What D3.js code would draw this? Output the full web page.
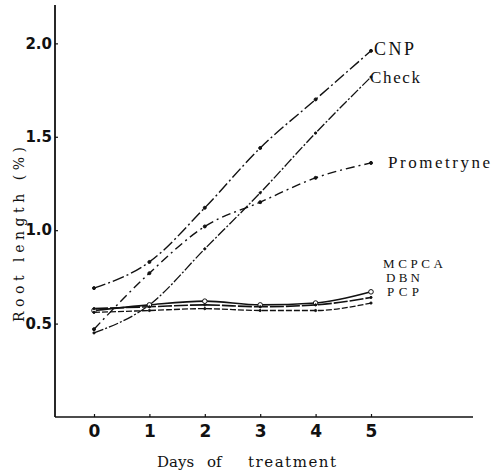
<!DOCTYPE html>
<html>
<head>
<meta charset="utf-8">
<script src="https://cdn.jsdelivr.net/npm/d3@7"></script>
<style>
  html, body { margin: 0; padding: 0; background: #fff; }
  svg { display: block; }
</style>
</head>
<body>
<svg id="chart" width="499" height="472"></svg>
<script>
// Days after treatment
const days = [0, 1, 2, 3, 4, 5];

// Root length per treatment
const cnp        = [0.69, 0.83, 1.12, 1.44, 1.70, 1.96];
const check      = [0.45, 0.60, 0.90, 1.20, 1.52, 1.82];
const prometryne = [0.47, 0.77, 1.02, 1.15, 1.28, 1.36];
const mcpca      = [0.57, 0.60, 0.62, 0.60, 0.61, 0.67];
const dbn        = [0.58, 0.59, 0.60, 0.59, 0.60, 0.64];
const pcp        = [0.56, 0.57, 0.58, 0.57, 0.57, 0.61];

const seriesNames = ["CNP", "Check", "Prometryne", "MCPCA", "DBN", "PCP"];
const seriesValues = [cnp, check, prometryne, mcpca, dbn, pcp];

// Axis tick labels
const xTickLabels = ["0", "1", "2", "3", "4", "5"];
const yTickValues = [0.5, 1.0, 1.5, 2.0];

const svg = d3.select("#chart");

const x = d3.scaleLinear().domain([0, 5]).range([94, 371]);
const y = d3.scaleLinear().domain([0, 2.2]).range([417, 6]);

const ink = "#111";

// Axis frame lines
svg.append("line")
  .attr("x1", 55).attr("x2", 55).attr("y1", 5).attr("y2", 417)
  .attr("stroke", ink).attr("stroke-width", 1.8);
svg.append("line")
  .attr("x1", 55).attr("x2", 473).attr("y1", 417).attr("y2", 417)
  .attr("stroke", ink).attr("stroke-width", 1.6);

// Y axis ticks and labels
const yAxis = d3.axisLeft(y)
  .tickValues(yTickValues)
  .tickFormat(d3.format(".1f"))
  .tickSizeInner(-3)
  .tickSizeOuter(0)
  .tickPadding(3);
const gy = svg.append("g").attr("transform", "translate(55,0)").call(yAxis);
gy.select(".domain").remove();
gy.selectAll(".tick line").attr("stroke", ink).attr("stroke-width", 1.2);
gy.selectAll(".tick text")
  .attr("fill", ink)
  .style("font-family", "'DejaVu Sans', sans-serif")
  .style("font-weight", "bold")
  .style("font-size", "15px");

// X axis ticks and labels
const xAxis = d3.axisBottom(x)
  .tickValues(days)
  .tickFormat((d, i) => xTickLabels[i])
  .tickSizeInner(-3)
  .tickSizeOuter(0)
  .tickPadding(8);
const gx = svg.append("g").attr("transform", "translate(0,417)").call(xAxis);
gx.select(".domain").remove();
gx.selectAll(".tick line").attr("stroke", ink).attr("stroke-width", 1.2);
gx.selectAll(".tick text")
  .attr("fill", ink)
  .style("font-family", "'DejaVu Sans', sans-serif")
  .style("font-weight", "bold")
  .style("font-size", "17px");

// Axis titles
const xt = svg.append("text")
  .attr("y", 467)
  .attr("fill", ink)
  .style("font-family", "'DejaVu Serif', serif")
  .style("font-size", "15px");
xt.append("tspan").attr("x", 157).text("Days");
xt.append("tspan").attr("x", 207).text("of");
xt.append("tspan").attr("x", 248).attr("textLength", 88).attr("lengthAdjust", "spacing").text("treatment");

svg.append("text")
  .attr("transform", "translate(24,322) rotate(-90)")
  .attr("textLength", 175)
  .attr("lengthAdjust", "spacing")
  .attr("fill", ink)
  .style("font-family", "'DejaVu Serif', serif")
  .style("font-size", "14px")
  .text("Root length (%)");

// Series lines
const line = d3.line()
  .x((d, i) => x(days[i]))
  .y(d => y(d))
  .curve(d3.curveMonotoneX);

const styles = [
  { dash: "12,3,2,3", width: 1.4 },   // CNP
  { dash: "10,2,2,2", width: 1.3 },   // Check
  { dash: "9,4,2,4",  width: 1.4 },   // Prometryne
  { dash: null,       width: 1.6 },   // MCPCA
  { dash: "14,2",     width: 1.6 },   // DBN
  { dash: "6,2",      width: 1.3 }    // PCP
];

seriesValues.forEach((vals, k) => {
  svg.append("path")
    .datum(vals)
    .attr("d", line)
    .attr("fill", "none")
    .attr("stroke", ink)
    .attr("stroke-width", styles[k].width)
    .attr("stroke-dasharray", styles[k].dash);
});

// Point markers
function dots(vals, r, filled) {
  svg.append("g").selectAll("circle")
    .data(vals)
    .join("circle")
    .attr("cx", (d, i) => x(days[i]))
    .attr("cy", d => y(d))
    .attr("r", r)
    .attr("fill", filled ? ink : "#fff")
    .attr("stroke", ink)
    .attr("stroke-width", 1);
}
dots(cnp, 1.5, true);
dots(check, 1.1, true);
dots(prometryne, 1.5, true);
dots(mcpca, 2.3, false);
dots(dbn, 1.1, true);
dots(pcp, 1.1, true);

// Series labels at the line ends
const labelFont = "'Liberation Serif', 'Times New Roman', serif";
const labels = [
  { name: seriesNames[0], x: 374, y: 55,  len: 40, size: 18 },
  { name: seriesNames[1], x: 370, y: 83,  len: 50, size: 17 },
  { name: seriesNames[2], x: 388, y: 168, len: 102, size: 17 },
  { name: seriesNames[3], x: 383, y: 268, len: 60, size: 13 },
  { name: seriesNames[4], x: 386, y: 282, len: 34, size: 13 },
  { name: seriesNames[5], x: 387, y: 296, len: 32, size: 13 }
];
svg.append("g").selectAll("text")
  .data(labels)
  .join("text")
  .attr("x", d => d.x)
  .attr("y", d => d.y)
  .attr("textLength", d => d.len)
  .attr("lengthAdjust", "spacing")
  .attr("fill", ink)
  .style("font-family", labelFont)
  .style("font-size", d => d.size + "px")
  .text(d => d.name);
</script>
</body>
</html>
